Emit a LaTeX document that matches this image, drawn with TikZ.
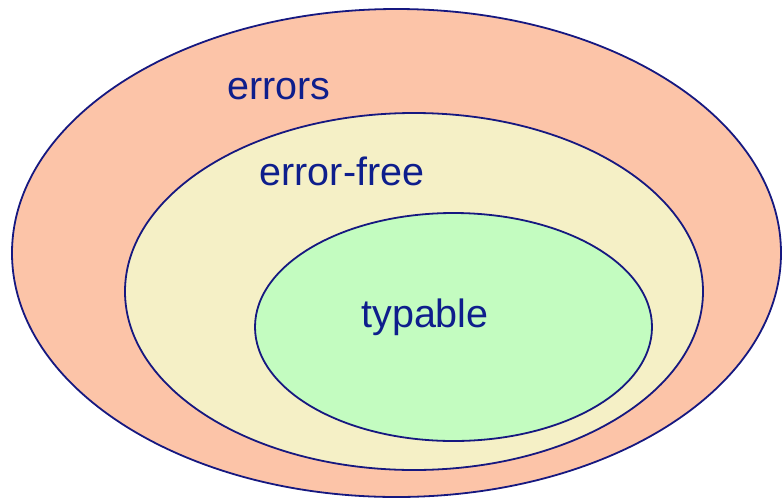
\documentclass[tikz,border=0pt]{standalone}
\usepackage{fontspec}
\setmainfont{Liberation Sans}
\usepackage{tikz}
\definecolor{rim}{RGB}{22,24,128}
\definecolor{ink}{RGB}{14,30,140}
\definecolor{salmon}{RGB}{252,196,168}
\definecolor{cream}{RGB}{245,240,198}
\definecolor{mint}{RGB}{195,252,192}
\tikzset{
    region/.style = {draw = rim, line width = 1.8pt},
    setlabel/.style = {text = ink, anchor = base, inner sep = 0,
        font = \fontsize{39.5}{47}\selectfont}
}

\begin{document}
\begin{tikzpicture}[x = 1pt, y = -1pt]

        % Define frame and the nested sets
        \useasboundingbox (0,0) rectangle (782,499);
        \filldraw[region, fill = salmon] (396.5,253) ellipse (384.5 and 244);
        \filldraw[region, fill = cream] (414,291.5) ellipse (289 and 178.5);
        \filldraw[region, fill = mint] (453.5,327) ellipse (198.5 and 114);

        \node[setlabel] (errors) at (279,99) {errors};
        \node[setlabel] (free) at (342,185) {error-free};
        \node[setlabel] (typable) at (425,327) {typable};
    \end{tikzpicture}
\end{document}
